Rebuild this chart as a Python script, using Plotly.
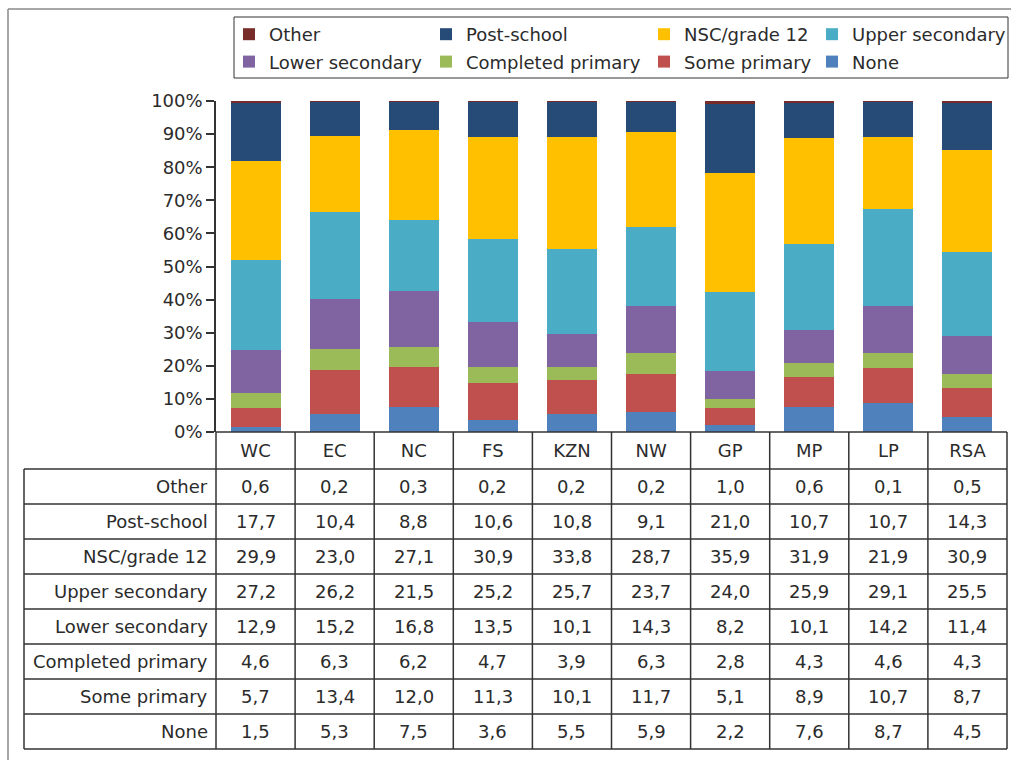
import plotly.graph_objects as go

# ---------------- data ----------------
regions = ["WC", "EC", "NC", "FS", "KZN", "NW", "GP", "MP", "LP", "RSA"]
none_ = [1.5, 5.3, 7.5, 3.6, 5.5, 5.9, 2.2, 7.6, 8.7, 4.5]
some_primary = [5.7, 13.4, 12.0, 11.3, 10.1, 11.7, 5.1, 8.9, 10.7, 8.7]
completed_primary = [4.6, 6.3, 6.2, 4.7, 3.9, 6.3, 2.8, 4.3, 4.6, 4.3]
lower_secondary = [12.9, 15.2, 16.8, 13.5, 10.1, 14.3, 8.2, 10.1, 14.2, 11.4]
upper_secondary = [27.2, 26.2, 21.5, 25.2, 25.7, 23.7, 24.0, 25.9, 29.1, 25.5]
nsc_grade12 = [29.9, 23.0, 27.1, 30.9, 33.8, 28.7, 35.9, 31.9, 21.9, 30.9]
post_school = [17.7, 10.4, 8.8, 10.6, 10.8, 9.1, 21.0, 10.7, 10.7, 14.3]
other = [0.6, 0.2, 0.3, 0.2, 0.2, 0.2, 1.0, 0.6, 0.1, 0.5]

y_ticks = [0, 10, 20, 30, 40, 50, 60, 70, 80, 90, 100]
y_ticktext = [f"{v}%" for v in y_ticks]

# bottom-up stacking order: (name, values, colour, legend)
series = [
    ("None", none_, "#4F81BD", "legend4"),
    ("Some primary", some_primary, "#C0504D", "legend3"),
    ("Completed primary", completed_primary, "#9BBB59", "legend2"),
    ("Lower secondary", lower_secondary, "#8064A2", "legend"),
    ("Upper secondary", upper_secondary, "#4BACC6", "legend4"),
    ("NSC/grade 12", nsc_grade12, "#FFC000", "legend3"),
    ("Post-school", post_school, "#254B76", "legend2"),
    ("Other", other, "#772C2A", "legend"),
]

# ---------------- layout constants (pixels) ----------------
W, H = 1011, 760
PL, PR = 216, 1007          # plot / table value columns
Y0, Y100 = 432, 101         # 0% and 100%
TL = 24                     # table left edge
HDR_B = 469                 # header row bottom
ROW_H = 35
FONT = "DejaVu Sans"
TXT = "#2b2b2b"
LINE = "#333333"
FS = 18


def xp(px):
    return px / W


def yp(py):
    return 1 - py / H


fig = go.Figure()
n_series = len(series)
for i, (name, vals, col, lg) in enumerate(series):
    fig.add_trace(go.Bar(
        x=regions, y=vals, name=name, marker=dict(color=col, line=dict(width=0)),
        legend=lg, legendgroup=name, legendrank=n_series - i, hoverinfo="name+y",
    ))

shapes = []
# outer frame
shapes.append(dict(type="line", xref="paper", yref="paper", x0=xp(8), x1=xp(1011), y0=yp(9), y1=yp(9),
                   line=dict(color="#8a8a8a", width=1.5)))
shapes.append(dict(type="line", xref="paper", yref="paper", x0=xp(8), x1=xp(8), y0=yp(9), y1=yp(760),
                   line=dict(color="#8a8a8a", width=1.5)))
# legend box
shapes.append(dict(type="rect", xref="paper", yref="paper", x0=xp(234), x1=xp(1008), y0=yp(17), y1=yp(78),
                   line=dict(color=LINE, width=1)))

# table grid
n_rows = len(series)
bottom = HDR_B + n_rows * ROW_H
colw = (PR - PL) / len(regions)
shapes.append(dict(type="line", xref="paper", yref="paper", x0=xp(PL), x1=xp(PR), y0=yp(Y0), y1=yp(Y0),
                   line=dict(color=LINE, width=1.5)))
for r in range(n_rows + 1):
    y = HDR_B + r * ROW_H
    shapes.append(dict(type="line", xref="paper", yref="paper", x0=xp(TL), x1=xp(PR), y0=yp(y), y1=yp(y),
                       line=dict(color=LINE, width=1.5)))
shapes.append(dict(type="line", xref="paper", yref="paper", x0=xp(TL), x1=xp(TL), y0=yp(HDR_B), y1=yp(bottom),
                   line=dict(color=LINE, width=1.5)))
for k in range(len(regions) + 1):
    x = PL + k * colw
    shapes.append(dict(type="line", xref="paper", yref="paper", x0=xp(x), x1=xp(x), y0=yp(Y0), y1=yp(bottom),
                       line=dict(color=LINE, width=1.5)))

annotations = []
table_series = list(reversed(series))
for r, (name, vals, col, lg) in enumerate(table_series):
    yc = HDR_B + (r + 0.5) * ROW_H
    annotations.append(dict(xref="paper", yref="paper", x=xp(PL - 6), y=yp(yc), text=name,
                            showarrow=False, xanchor="right", yanchor="middle",
                            font=dict(family=FONT, size=FS, color=TXT)))
    for reg, v in zip(regions, vals):
        annotations.append(dict(xref="x", yref="paper", x=reg, y=yp(yc),
                                text=f"{v:.1f}".replace(".", ","), showarrow=False,
                                xanchor="center", yanchor="middle",
                                font=dict(family=FONT, size=FS, color=TXT)))

leg_common = dict(orientation="v", traceorder="grouped", tracegroupgap=1,
                  bgcolor="rgba(0,0,0,0)", borderwidth=0,
                  font=dict(family=FONT, size=FS, color=TXT), yanchor="top", xanchor="left",
                  y=yp(16))
swatch_x = [243, 440, 658, 826]
legend_keys = ["legend", "legend2", "legend3", "legend4"]
legends = {k: dict(leg_common, x=xp(sx - 14)) for k, sx in zip(legend_keys, swatch_x)}

fig.update_layout(
    width=W, height=H,
    margin=dict(l=0, r=0, t=0, b=0, autoexpand=False),
    paper_bgcolor="white", plot_bgcolor="white",
    barmode="stack", bargap=0.368,
    font=dict(family=FONT, size=FS, color=TXT),
    showlegend=True,
    shapes=shapes, annotations=annotations,
    xaxis=dict(domain=[xp(PL), xp(PR)], range=[-0.5, len(regions) - 0.5], showline=False,
               showgrid=False, zeroline=False, ticks="", ticklabelstandoff=6,
               tickfont=dict(family=FONT, size=FS, color=TXT), fixedrange=True),
    yaxis=dict(domain=[yp(Y0), yp(Y100)], range=[0, 100], tickmode="array", tickvals=y_ticks,
               ticktext=y_ticktext,
               showline=True, linecolor=LINE, linewidth=1.5, ticks="outside", ticklen=8,
               tickcolor=LINE, tickwidth=1.5, showgrid=False, zeroline=False,
               tickfont=dict(family=FONT, size=FS, color=TXT), fixedrange=True),
    **legends,
)

fig.write_html("out.html", config={"displayModeBar": False},
               post_script="document.body.style.margin='0px';document.body.style.overflow='hidden';")
